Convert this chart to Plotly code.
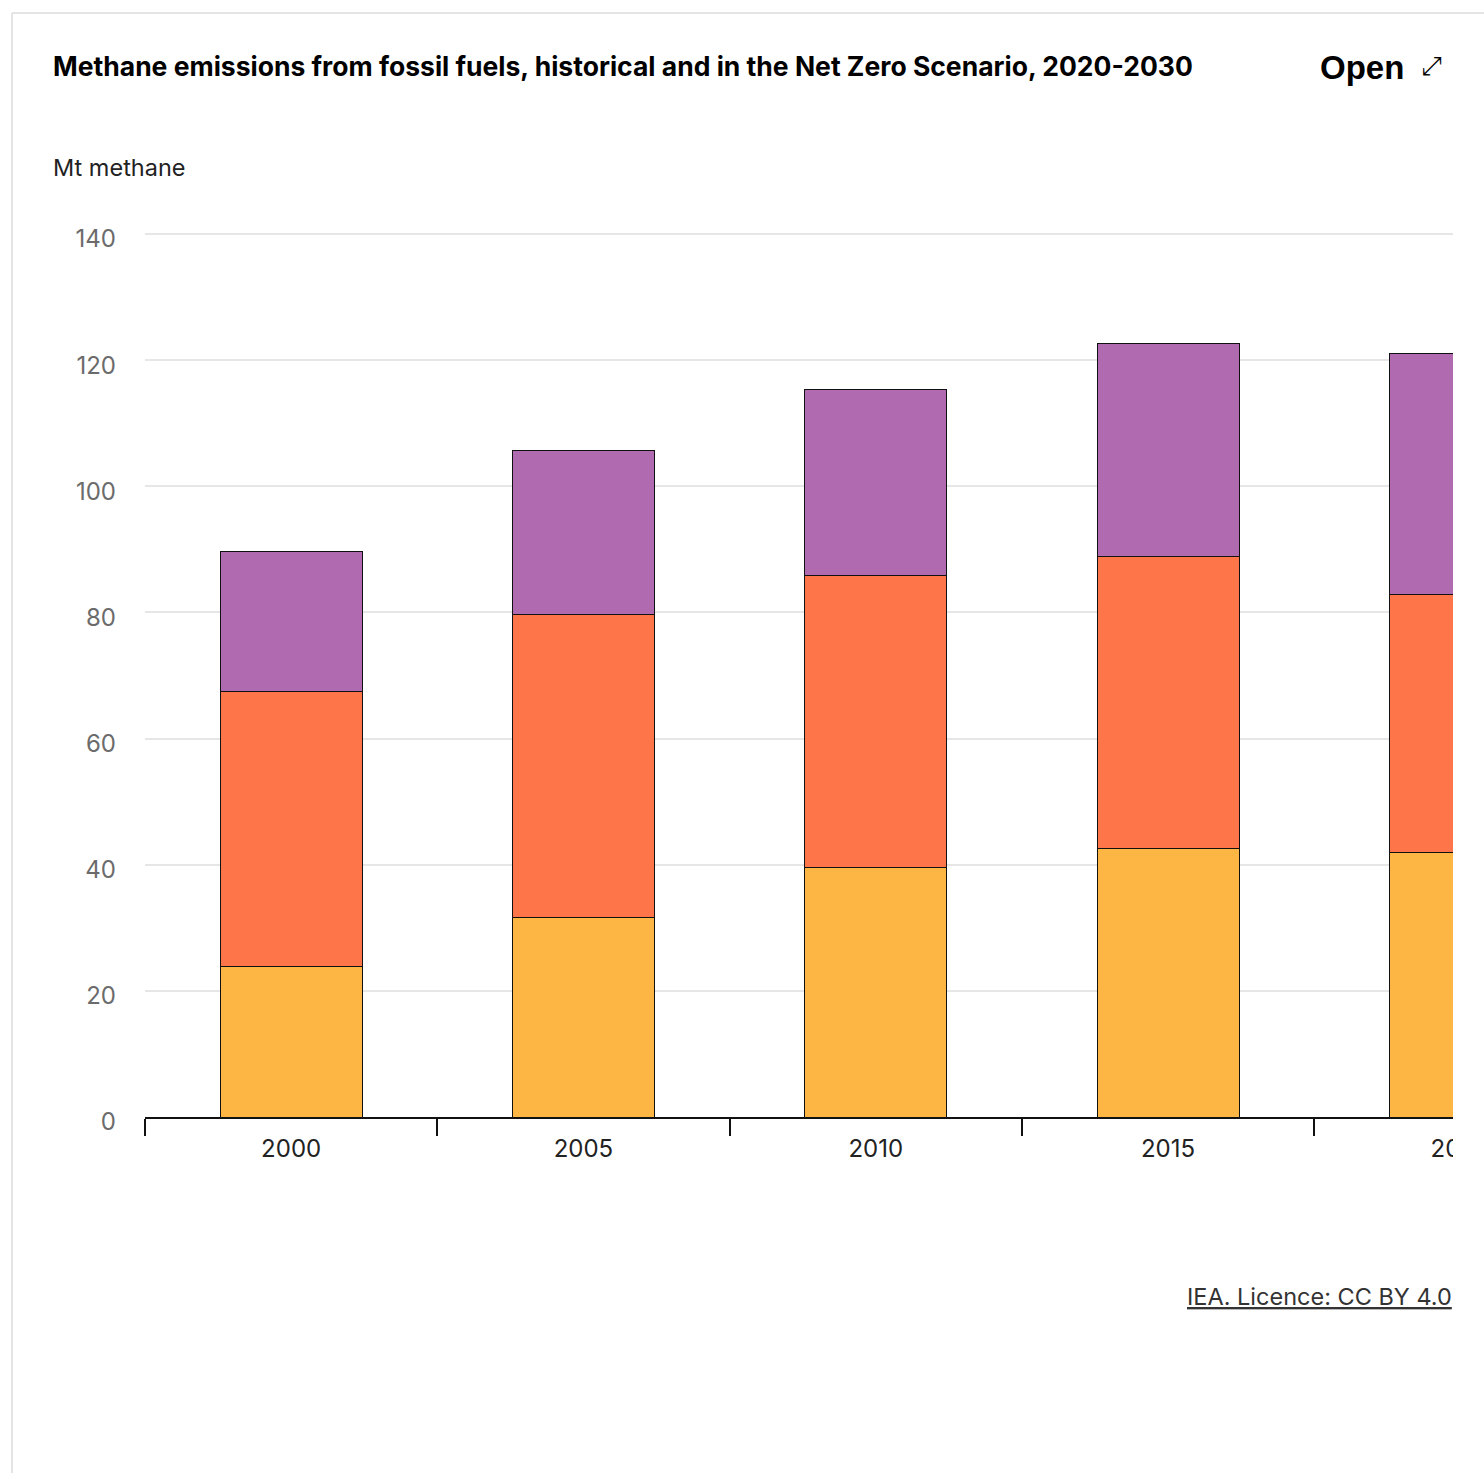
import plotly.graph_objects as go

# Methane emissions by fuel, Mt
years = ["2000", "2005", "2010", "2015", "2020"]
coal = [23.8, 31.7, 39.6, 42.5, 41.9]
oil = [43.7, 47.9, 46.3, 46.3, 40.9]
gas = [22.2, 26.0, 29.5, 33.9, 38.3]
y_ticks = [0, 20, 40, 60, 80, 100, 120, 140]

series = [
    ("Coal", coal, "#FDB643"),
    ("Oil", oil, "#FF754A"),
    ("Natural gas", gas, "#B06AB0"),
]

W, H = 1484, 1473
Y0 = 1117            # pixel row of the zero line
PX_PER_UNIT = 883 / 140
STEP = 292.3         # pixels per category
ML, MR, MT = 145, 0, 228
MB = H - Y0
PW, PH = W - ML - MR, Y0 - MT
Y_TOP = PH / PX_PER_UNIT


def xp(px):
    return (px - ML) / PW


def yp(py):
    return (Y0 - py) / PH


FONT = "Inter"

fig = go.Figure()
for name, vals, color in series:
    fig.add_trace(go.Bar(
        x=years, y=vals, name=name,
        marker=dict(color=color, line=dict(color="#111111", width=1)),
    ))

fig.update_layout(
    width=W, height=H,
    margin=dict(l=ML, r=MR, t=MT, b=MB, pad=0),
    barmode="stack", bargap=0.514,
    showlegend=False,
    plot_bgcolor="white", paper_bgcolor="white",
    font=dict(family=FONT, color="#111111"),
)

fig.update_xaxes(
    type="category", automargin=False,
    range=[-0.5, -0.5 + PW / STEP],
    showgrid=False,
    showline=True, linecolor="#111111", linewidth=2,
    ticks="outside", tickson="boundaries", ticklen=17, tickwidth=2, tickcolor="#111111",
    ticklabelstandoff=9,
    tickfont=dict(size=24, color="#222222", family=FONT),
)

fig.update_yaxes(
    automargin=False,
    range=[0, Y_TOP], tickvals=y_ticks,
    showgrid=True, gridcolor="#e6e6e6", gridwidth=2,
    zeroline=False, showline=False, ticks="",
    ticklabelstandoff=28, ticklabelshift=5,
    tickfont=dict(size=24, color="#6b6b6b", family=FONT),
)

shapes = [
    # card border
    dict(type="line", xref="paper", yref="paper", x0=xp(12), x1=xp(W + 5), y0=yp(13), y1=yp(13),
         line=dict(color="#e4e4e4", width=2), layer="above"),
    dict(type="line", xref="paper", yref="paper", x0=xp(12), x1=xp(12), y0=yp(13), y1=yp(H + 5),
         line=dict(color="#e4e4e4", width=2), layer="above"),
    # right edge of the visible chart region
    dict(type="rect", xref="paper", yref="paper", x0=xp(1453), x1=xp(W + 20), y0=yp(1185), y1=yp(200),
         fillcolor="white", line=dict(width=0), layer="above"),
]

annotations = [
    dict(text="<b>Methane emissions from fossil fuels, historical and in the Net Zero Scenario, 2020-2030</b>",
         xref="paper", yref="paper", x=xp(51), y=yp(66), xanchor="left", yanchor="middle",
         showarrow=False, font=dict(size=26.5, color="#000000", family=FONT)),
    dict(text="<b>Open</b>", xref="paper", yref="paper", x=xp(1318), y=yp(67), xanchor="left", yanchor="middle",
         showarrow=False, font=dict(size=33, color="#000000", family="Liberation Sans")),
    dict(text="⤢", xref="paper", yref="paper", x=xp(1431), y=yp(66), xanchor="center", yanchor="middle",
         showarrow=False, font=dict(size=26, color="#000000", family="DejaVu Sans")),
    dict(text="Mt methane", xref="paper", yref="paper", x=xp(51), y=yp(167), xanchor="left", yanchor="middle",
         showarrow=False, font=dict(size=23.5, color="#222222", family=FONT)),
    dict(text="<u>IEA. Licence: CC BY 4.0</u>", xref="paper", yref="paper", x=xp(1454), y=yp(1296),
         xanchor="right", yanchor="middle",
         showarrow=False, font=dict(size=23.5, color="#333333", family=FONT)),
]

fig.update_layout(shapes=shapes, annotations=annotations)

fig.write_html("out.html")
